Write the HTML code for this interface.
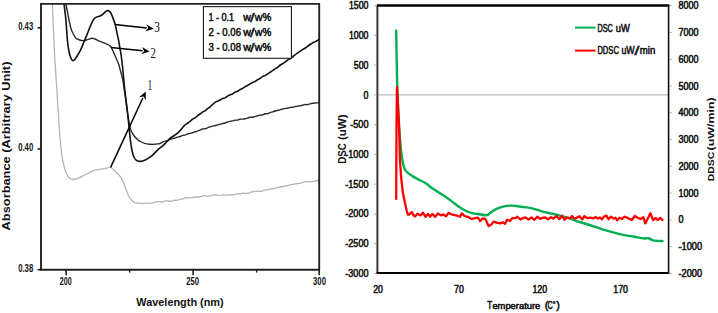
<!DOCTYPE html>
<html><head><meta charset="utf-8"><style>
html,body{margin:0;padding:0;background:#fff;width:718px;height:313px;overflow:hidden}
svg{display:block}
</style></head><body>
<svg width="718" height="313" viewBox="0 0 718 313">
<rect width="718" height="313" fill="#fff"/>
<path d="M52.30,3.50 C52.50,7.92 53.07,20.58 53.50,30.00 C53.93,39.42 54.23,48.33 54.90,60.00 C55.57,71.67 56.75,88.33 57.50,100.00 C58.25,111.67 58.95,123.33 59.40,130.00 C59.85,136.67 59.85,136.20 60.20,140.00 C60.55,143.80 60.98,148.97 61.50,152.80 C62.02,156.63 62.58,159.82 63.30,163.00 C64.02,166.18 64.83,169.43 65.80,171.90 C66.77,174.37 67.82,176.53 69.10,177.80 C70.38,179.07 72.00,179.42 73.50,179.50 C75.00,179.58 76.28,179.02 78.10,178.30 C79.92,177.58 82.28,176.27 84.40,175.20 C86.52,174.13 89.10,172.75 90.80,171.90 C92.50,171.05 93.07,170.53 94.60,170.10 C96.13,169.67 98.07,169.60 100.00,169.30 C101.93,169.00 104.43,168.62 106.20,168.30 C107.97,167.98 109.12,166.92 110.60,167.40 C112.08,167.88 113.60,169.82 115.10,171.20 C116.60,172.58 118.30,174.02 119.60,175.70 C120.90,177.38 121.78,178.88 122.90,181.30 C124.02,183.72 125.18,187.48 126.30,190.20 C127.42,192.92 128.30,195.58 129.60,197.60 C130.90,199.62 132.23,201.35 134.10,202.30 C135.97,203.25 139.18,203.09 140.80,203.29 C142.42,203.48 142.80,203.51 143.80,203.47 C144.80,203.44 145.80,203.13 146.80,203.09 C147.80,203.04 148.80,203.21 149.80,203.19 C150.80,203.17 151.80,203.15 152.80,202.95 C153.80,202.74 154.80,202.18 155.80,201.95 C156.80,201.72 157.80,201.52 158.80,201.56 C159.80,201.61 160.80,202.29 161.80,202.23 C162.80,202.16 163.80,201.41 164.80,201.17 C165.80,200.92 166.80,200.74 167.80,200.77 C168.80,200.79 169.80,201.39 170.80,201.31 C171.80,201.24 172.80,200.48 173.80,200.31 C174.80,200.14 175.80,200.44 176.80,200.28 C177.80,200.11 178.80,199.52 179.80,199.30 C180.80,199.07 181.80,199.19 182.80,198.94 C183.80,198.70 184.80,197.99 185.80,197.81 C186.80,197.63 187.80,197.87 188.80,197.84 C189.80,197.82 190.80,197.81 191.80,197.66 C192.80,197.52 193.80,197.10 194.80,196.99 C195.80,196.88 196.80,197.05 197.80,197.00 C198.80,196.94 199.80,196.87 200.80,196.65 C201.80,196.43 202.80,195.73 203.80,195.67 C204.80,195.60 205.80,196.22 206.80,196.24 C207.80,196.26 208.80,195.95 209.80,195.78 C210.80,195.61 211.80,195.38 212.80,195.21 C213.80,195.03 214.80,194.67 215.80,194.73 C216.80,194.79 217.80,195.53 218.80,195.57 C219.80,195.61 220.80,195.02 221.80,194.94 C222.80,194.86 223.80,195.05 224.80,195.08 C225.80,195.11 226.80,195.17 227.80,195.11 C228.80,195.06 229.80,194.81 230.80,194.76 C231.80,194.70 232.80,194.94 233.80,194.78 C234.80,194.63 235.80,193.96 236.80,193.82 C237.80,193.69 238.80,194.08 239.80,193.98 C240.80,193.88 241.80,193.31 242.80,193.22 C243.80,193.14 244.80,193.50 245.80,193.48 C246.80,193.46 247.80,193.36 248.80,193.08 C249.80,192.81 250.80,192.09 251.80,191.82 C252.80,191.54 253.80,191.59 254.80,191.46 C255.80,191.33 256.80,191.04 257.80,191.03 C258.80,191.03 259.80,191.54 260.80,191.41 C261.80,191.28 262.80,190.50 263.80,190.26 C264.80,190.02 265.80,190.17 266.80,189.97 C267.80,189.77 268.80,189.25 269.80,189.06 C270.80,188.86 271.80,188.96 272.80,188.79 C273.80,188.61 274.80,188.27 275.80,188.01 C276.80,187.75 277.80,187.44 278.80,187.23 C279.80,187.02 280.80,186.96 281.80,186.76 C282.80,186.56 283.80,186.20 284.80,186.01 C285.80,185.83 286.80,185.88 287.80,185.65 C288.80,185.42 289.80,184.88 290.80,184.64 C291.80,184.39 292.80,184.37 293.80,184.19 C294.80,184.00 295.80,183.67 296.80,183.52 C297.80,183.37 298.80,183.45 299.80,183.27 C300.80,183.10 301.80,182.78 302.80,182.48 C303.80,182.18 304.80,181.56 305.80,181.46 C306.80,181.36 307.80,181.86 308.80,181.88 C309.80,181.91 310.80,181.73 311.80,181.60 C312.80,181.47 313.80,181.33 314.80,181.12 C315.80,180.90 317.03,180.49 317.80,180.30 C318.57,180.12 319.13,180.05 319.40,180.00" fill="none" stroke="#b4b4b4" stroke-width="1.3"/>
<path d="M65.90,3.50 C66.03,4.25 66.43,6.58 66.70,8.00 C66.97,9.42 67.12,10.00 67.50,12.00 C67.88,14.00 68.53,17.67 69.00,20.00 C69.47,22.33 69.88,24.33 70.30,26.00 C70.72,27.67 71.00,28.67 71.50,30.00 C72.00,31.33 72.55,32.63 73.30,34.00 C74.05,35.37 74.97,37.20 76.00,38.20 C77.03,39.20 78.23,39.60 79.50,40.00 C80.77,40.40 82.27,40.67 83.60,40.60 C84.93,40.53 86.10,39.98 87.50,39.60 C88.90,39.22 90.73,38.40 92.00,38.30 C93.27,38.20 93.83,38.52 95.10,39.00 C96.37,39.48 98.12,40.55 99.60,41.20 C101.08,41.85 102.53,42.30 104.00,42.90 C105.47,43.50 107.35,44.27 108.40,44.80 C109.45,45.33 109.77,45.57 110.30,46.10 C110.83,46.63 110.95,46.72 111.60,48.00 C112.25,49.28 113.35,51.88 114.20,53.80 C115.05,55.72 115.97,57.80 116.70,59.50 C117.43,61.20 118.05,62.42 118.60,64.00 C119.15,65.58 119.48,67.12 120.00,69.00 C120.52,70.88 121.18,73.18 121.70,75.30 C122.22,77.42 122.65,79.13 123.10,81.70 C123.55,84.27 123.95,87.65 124.40,90.70 C124.85,93.75 125.30,96.45 125.80,100.00 C126.30,103.55 126.90,108.50 127.40,112.00 C127.90,115.50 128.30,118.23 128.80,121.00 C129.30,123.77 129.82,126.57 130.40,128.60 C130.98,130.63 131.62,131.92 132.30,133.20 C132.98,134.48 133.68,135.30 134.50,136.30 C135.32,137.30 136.23,138.33 137.20,139.20 C138.17,140.07 139.08,140.82 140.30,141.50 C141.52,142.18 142.95,142.85 144.50,143.30 C146.05,143.75 147.93,144.03 149.60,144.20 C151.27,144.37 152.90,144.40 154.50,144.30 C156.10,144.20 158.28,143.71 159.20,143.60 C160.12,143.49 159.45,143.87 160.00,143.62 C160.55,143.37 161.67,142.53 162.50,142.11 C163.33,141.68 164.17,141.29 165.00,141.08 C165.83,140.87 166.67,141.12 167.50,140.85 C168.33,140.58 169.17,139.83 170.00,139.45 C170.83,139.08 171.67,138.80 172.50,138.58 C173.33,138.36 174.17,138.38 175.00,138.13 C175.83,137.88 176.67,137.33 177.50,137.09 C178.33,136.85 179.17,136.95 180.00,136.67 C180.83,136.40 181.67,135.68 182.50,135.43 C183.33,135.18 184.17,135.41 185.00,135.16 C185.83,134.90 186.67,134.23 187.50,133.92 C188.33,133.62 189.17,133.53 190.00,133.34 C190.83,133.15 191.67,133.02 192.50,132.77 C193.33,132.51 194.17,132.06 195.00,131.79 C195.83,131.52 196.67,131.42 197.50,131.15 C198.33,130.89 199.17,130.56 200.00,130.20 C200.83,129.83 201.67,129.19 202.50,128.96 C203.33,128.72 204.17,128.98 205.00,128.79 C205.83,128.61 206.67,128.16 207.50,127.84 C208.33,127.52 209.17,127.19 210.00,126.90 C210.83,126.60 211.67,126.24 212.50,126.06 C213.33,125.87 214.17,125.97 215.00,125.76 C215.83,125.56 216.67,125.06 217.50,124.82 C218.33,124.58 219.17,124.56 220.00,124.35 C220.83,124.14 221.67,123.77 222.50,123.55 C223.33,123.32 224.17,123.24 225.00,122.99 C225.83,122.74 226.67,122.29 227.50,122.03 C228.33,121.77 229.17,121.63 230.00,121.43 C230.83,121.24 231.67,121.06 232.50,120.85 C233.33,120.63 234.17,120.26 235.00,120.14 C235.83,120.03 236.67,120.32 237.50,120.18 C238.33,120.03 239.17,119.44 240.00,119.27 C240.83,119.09 241.67,119.21 242.50,119.14 C243.33,119.06 244.17,118.97 245.00,118.80 C245.83,118.63 246.67,118.36 247.50,118.10 C248.33,117.84 249.17,117.39 250.00,117.24 C250.83,117.09 251.67,117.32 252.50,117.21 C253.33,117.10 254.17,116.84 255.00,116.59 C255.83,116.35 256.67,115.99 257.50,115.75 C258.33,115.51 259.17,115.30 260.00,115.15 C260.83,115.00 261.67,115.09 262.50,114.86 C263.33,114.63 264.17,113.96 265.00,113.76 C265.83,113.55 266.67,113.82 267.50,113.63 C268.33,113.43 269.17,112.88 270.00,112.58 C270.83,112.28 271.67,112.10 272.50,111.83 C273.33,111.57 274.17,111.24 275.00,111.00 C275.83,110.77 276.67,110.60 277.50,110.43 C278.33,110.25 279.17,110.17 280.00,109.93 C280.83,109.70 281.67,109.24 282.50,109.01 C283.33,108.78 284.17,108.69 285.00,108.56 C285.83,108.42 286.67,108.38 287.50,108.21 C288.33,108.03 289.17,107.67 290.00,107.51 C290.83,107.35 291.67,107.36 292.50,107.22 C293.33,107.08 294.17,106.87 295.00,106.69 C295.83,106.50 296.67,106.26 297.50,106.11 C298.33,105.97 299.17,105.96 300.00,105.82 C300.83,105.68 301.67,105.49 302.50,105.27 C303.33,105.05 304.17,104.61 305.00,104.51 C305.83,104.42 306.67,104.82 307.50,104.70 C308.33,104.59 309.17,104.02 310.00,103.81 C310.83,103.59 311.67,103.56 312.50,103.41 C313.33,103.27 314.17,103.04 315.00,102.95 C315.83,102.86 316.83,102.98 317.50,102.87 C318.17,102.76 318.75,102.39 319.00,102.30" fill="none" stroke="#2a2a2a" stroke-width="1.4"/>
<path d="M64.00,3.50 C64.17,4.92 64.68,9.25 65.00,12.00 C65.32,14.75 65.55,16.00 65.90,20.00 C66.25,24.00 66.82,32.33 67.10,36.00 C67.38,39.67 67.33,39.67 67.60,42.00 C67.87,44.33 68.30,47.75 68.70,50.00 C69.10,52.25 69.55,53.97 70.00,55.50 C70.45,57.03 70.93,58.33 71.40,59.20 C71.87,60.07 72.27,60.63 72.80,60.70 C73.33,60.77 73.97,60.25 74.60,59.60 C75.23,58.95 75.63,58.33 76.60,56.80 C77.57,55.27 79.23,52.73 80.40,50.40 C81.57,48.07 82.53,45.35 83.60,42.80 C84.67,40.25 85.63,37.97 86.80,35.10 C87.97,32.23 89.43,28.25 90.60,25.60 C91.77,22.95 92.75,20.65 93.80,19.20 C94.85,17.75 95.85,17.43 96.90,16.90 C97.95,16.37 99.03,16.52 100.10,16.00 C101.17,15.48 102.23,14.65 103.30,13.80 C104.37,12.95 105.65,11.40 106.50,10.90 C107.35,10.40 107.75,10.57 108.40,10.80 C109.05,11.03 109.65,11.12 110.40,12.30 C111.15,13.48 112.05,15.68 112.90,17.90 C113.75,20.12 114.83,23.13 115.50,25.60 C116.17,28.07 116.38,30.25 116.90,32.70 C117.42,35.15 118.10,37.75 118.60,40.30 C119.10,42.85 119.47,45.43 119.90,48.00 C120.33,50.57 120.83,53.15 121.20,55.70 C121.57,58.25 121.83,61.08 122.10,63.30 C122.37,65.52 122.55,66.55 122.80,69.00 C123.05,71.45 123.27,74.50 123.60,78.00 C123.93,81.50 124.40,86.33 124.80,90.00 C125.20,93.67 125.53,96.17 126.00,100.00 C126.47,103.83 127.13,108.83 127.60,113.00 C128.07,117.17 128.33,120.50 128.80,125.00 C129.27,129.50 129.88,135.83 130.40,140.00 C130.92,144.17 131.38,147.33 131.90,150.00 C132.42,152.67 132.90,154.42 133.50,156.00 C134.10,157.58 134.67,158.62 135.50,159.50 C136.33,160.38 137.50,161.02 138.50,161.30 C139.50,161.58 140.37,161.42 141.50,161.20 C142.63,160.98 144.13,160.50 145.30,160.00 C146.47,159.50 147.38,158.93 148.50,158.20 C149.62,157.47 150.67,156.78 152.00,155.60 C153.33,154.42 155.17,152.39 156.50,151.10 C157.83,149.81 159.00,148.69 160.00,147.85 C161.00,147.01 161.67,146.77 162.50,146.06 C163.33,145.35 164.17,144.44 165.00,143.59 C165.83,142.75 166.67,141.87 167.50,140.99 C168.33,140.10 169.17,139.01 170.00,138.30 C170.83,137.59 171.67,137.29 172.50,136.74 C173.33,136.19 174.17,135.62 175.00,135.00 C175.83,134.38 176.67,133.76 177.50,133.04 C178.33,132.32 179.17,131.56 180.00,130.68 C180.83,129.81 181.67,128.76 182.50,127.81 C183.33,126.86 184.17,125.72 185.00,124.96 C185.83,124.20 186.67,123.84 187.50,123.27 C188.33,122.69 189.17,122.17 190.00,121.50 C190.83,120.82 191.67,119.82 192.50,119.22 C193.33,118.62 194.17,118.47 195.00,117.90 C195.83,117.32 196.67,116.41 197.50,115.76 C198.33,115.11 199.17,114.62 200.00,114.02 C200.83,113.41 201.67,112.66 202.50,112.14 C203.33,111.62 204.17,111.47 205.00,110.90 C205.83,110.34 206.67,109.42 207.50,108.74 C208.33,108.07 209.17,107.53 210.00,106.86 C210.83,106.18 211.67,105.46 212.50,104.70 C213.33,103.94 214.17,102.90 215.00,102.31 C215.83,101.73 216.67,101.56 217.50,101.18 C218.33,100.80 219.17,100.49 220.00,100.05 C220.83,99.61 221.67,98.89 222.50,98.53 C223.33,98.17 224.17,98.25 225.00,97.87 C225.83,97.48 226.67,96.72 227.50,96.21 C228.33,95.70 229.17,95.18 230.00,94.81 C230.83,94.43 231.67,94.40 232.50,93.95 C233.33,93.50 234.17,92.56 235.00,92.12 C235.83,91.68 236.67,91.74 237.50,91.33 C238.33,90.92 239.17,90.15 240.00,89.65 C240.83,89.16 241.67,88.84 242.50,88.38 C243.33,87.91 244.17,87.32 245.00,86.85 C245.83,86.38 246.67,86.04 247.50,85.55 C248.33,85.07 249.17,84.47 250.00,83.95 C250.83,83.43 251.67,82.83 252.50,82.44 C253.33,82.06 254.17,82.08 255.00,81.63 C255.83,81.17 256.67,80.22 257.50,79.71 C258.33,79.20 259.17,79.07 260.00,78.55 C260.83,78.03 261.67,77.10 262.50,76.61 C263.33,76.12 264.17,76.03 265.00,75.60 C265.83,75.16 266.67,74.55 267.50,74.00 C268.33,73.45 269.17,72.87 270.00,72.31 C270.83,71.76 271.67,71.23 272.50,70.66 C273.33,70.09 274.17,69.43 275.00,68.87 C275.83,68.32 276.67,67.93 277.50,67.32 C278.33,66.71 279.17,65.83 280.00,65.24 C280.83,64.64 281.67,64.24 282.50,63.74 C283.33,63.24 284.17,62.85 285.00,62.23 C285.83,61.62 286.67,60.62 287.50,60.05 C288.33,59.48 289.17,59.31 290.00,58.81 C290.83,58.30 291.67,57.66 292.50,57.01 C293.33,56.36 294.17,55.56 295.00,54.91 C295.83,54.26 296.67,53.69 297.50,53.11 C298.33,52.52 299.17,51.98 300.00,51.40 C300.83,50.81 301.67,50.10 302.50,49.58 C303.33,49.06 304.17,48.81 305.00,48.26 C305.83,47.71 306.67,46.91 307.50,46.28 C308.33,45.65 309.17,45.02 310.00,44.47 C310.83,43.92 311.67,43.40 312.50,42.96 C313.33,42.52 314.17,42.26 315.00,41.84 C315.83,41.43 316.83,40.92 317.50,40.48 C318.17,40.04 318.75,39.41 319.00,39.20" fill="none" stroke="#111" stroke-width="1.6"/>
<rect x="0" y="0" width="40" height="313" fill="#fff"/>
<path d="M41,3.9 H319.2 V269.7 H41 Z" fill="none" stroke="#222" stroke-width="1.9"/>
<line x1="37.6" y1="27.8" x2="41" y2="27.8" stroke="#141414" stroke-width="1.6"/>
<line x1="37.6" y1="149" x2="41" y2="149" stroke="#141414" stroke-width="1.6"/>
<line x1="37.6" y1="269.7" x2="41" y2="269.7" stroke="#141414" stroke-width="1.6"/>
<line x1="66.1" y1="269.7" x2="66.1" y2="275.3" stroke="#141414" stroke-width="1.5"/>
<line x1="193.1" y1="269.7" x2="193.1" y2="275.3" stroke="#141414" stroke-width="1.5"/>
<line x1="319.2" y1="269.7" x2="319.2" y2="275.3" stroke="#141414" stroke-width="1.5"/>
<line x1="129.6" y1="269.7" x2="129.6" y2="272.6" stroke="#141414" stroke-width="1.3"/>
<line x1="256.6" y1="269.7" x2="256.6" y2="272.6" stroke="#141414" stroke-width="1.3"/>
<rect x="203.4" y="6.6" width="88" height="51.7" fill="#fff" stroke="#1a1a1a" stroke-width="1.1"/>
<line x1="110.6" y1="167.4" x2="142.85" y2="97.95" stroke="#000" stroke-width="1.5"/><polygon points="145.80,91.60 145.70,100.37 143.53,96.50 139.17,97.34" fill="#000"/>
<line x1="111.0" y1="47.4" x2="142.64" y2="50.76" stroke="#000" stroke-width="1.5"/><polygon points="149.60,51.50 141.26,54.23 144.23,50.93 142.02,47.08" fill="#000"/>
<line x1="114.8" y1="24.5" x2="146.74" y2="27.95" stroke="#000" stroke-width="1.5"/><polygon points="153.70,28.70 145.36,31.42 148.33,28.12 146.13,24.26" fill="#000"/>
<text x="33.2" y="29.8" font-family='"Liberation Sans", sans-serif' font-size="10.2" font-weight="bold" text-anchor="end" fill="#111" textLength="15" lengthAdjust="spacingAndGlyphs">0.43</text>
<text x="33.2" y="151.0" font-family='"Liberation Sans", sans-serif' font-size="10.2" font-weight="bold" text-anchor="end" fill="#111" textLength="15" lengthAdjust="spacingAndGlyphs">0.40</text>
<text x="33.2" y="271.9" font-family='"Liberation Sans", sans-serif' font-size="10.2" font-weight="bold" text-anchor="end" fill="#111" textLength="15" lengthAdjust="spacingAndGlyphs">0.38</text>
<text x="65.7" y="284.8" font-family='"Liberation Sans", sans-serif' font-size="10.0" font-weight="bold" text-anchor="middle" fill="#111" textLength="11.8" lengthAdjust="spacingAndGlyphs">200</text>
<text x="192.7" y="284.8" font-family='"Liberation Sans", sans-serif' font-size="10.0" font-weight="bold" text-anchor="middle" fill="#111" textLength="12.8" lengthAdjust="spacingAndGlyphs">250</text>
<text x="319.5" y="284.8" font-family='"Liberation Sans", sans-serif' font-size="10.0" font-weight="bold" text-anchor="middle" fill="#111" textLength="12.8" lengthAdjust="spacingAndGlyphs">300</text>
<text x="136.3" y="305.7" font-family='"Liberation Sans", sans-serif' font-size="11.1" font-weight="bold" text-anchor="start" fill="#111" textLength="87.4" lengthAdjust="spacingAndGlyphs">Wavelength (nm)</text>
<text transform="translate(10.0,230.4) rotate(-90)" x="0" y="0" font-family='"Liberation Sans", sans-serif' font-size="10.2" font-weight="bold" fill="#111" textLength="168.8" lengthAdjust="spacingAndGlyphs">Absorbance (Arbitrary Unit)</text>
<text x="147.4" y="89.8" font-family='"Liberation Serif", serif' font-size="15" font-weight="normal" text-anchor="start" fill="#111" textLength="4.8" lengthAdjust="spacingAndGlyphs">1</text>
<text x="150.5" y="58.0" font-family='"Liberation Serif", serif' font-size="15" font-weight="normal" text-anchor="start" fill="#111" textLength="5.4" lengthAdjust="spacingAndGlyphs">2</text>
<text x="154.2" y="31.7" font-family='"Liberation Serif", serif' font-size="15" font-weight="normal" text-anchor="start" fill="#111" textLength="5.6" lengthAdjust="spacingAndGlyphs">3</text>
<text x="208.4" y="21.2" font-family='"Liberation Sans", sans-serif' font-size="10.6" font-weight="normal" text-anchor="start" fill="#111" textLength="25.8" lengthAdjust="spacingAndGlyphs" stroke="#111" stroke-width="0.5">1 - 0.1</text>
<text y="21.2" font-family='"Liberation Sans", sans-serif' font-size="10.6" fill="#111" stroke="#111" stroke-width="0.5"><tspan x="243.2">w</tspan><tspan x="250.0" font-size="12.5" dy="0.9" textLength="4.6" lengthAdjust="spacingAndGlyphs">/</tspan><tspan x="254.7" dy="-0.9">w</tspan><tspan x="262.5" textLength="8.8" lengthAdjust="spacingAndGlyphs">%</tspan></text>
<text x="208.4" y="36.2" font-family='"Liberation Sans", sans-serif' font-size="10.6" font-weight="normal" text-anchor="start" fill="#111" textLength="32.6" lengthAdjust="spacingAndGlyphs" stroke="#111" stroke-width="0.5">2 - 0.06</text>
<text y="36.2" font-family='"Liberation Sans", sans-serif' font-size="10.6" fill="#111" stroke="#111" stroke-width="0.5"><tspan x="243.2">w</tspan><tspan x="250.0" font-size="12.5" dy="0.9" textLength="4.6" lengthAdjust="spacingAndGlyphs">/</tspan><tspan x="254.7" dy="-0.9">w</tspan><tspan x="262.5" textLength="8.8" lengthAdjust="spacingAndGlyphs">%</tspan></text>
<text x="208.4" y="51.0" font-family='"Liberation Sans", sans-serif' font-size="10.6" font-weight="normal" text-anchor="start" fill="#111" textLength="32.6" lengthAdjust="spacingAndGlyphs" stroke="#111" stroke-width="0.5">3 - 0.08</text>
<text y="51.0" font-family='"Liberation Sans", sans-serif' font-size="10.6" fill="#111" stroke="#111" stroke-width="0.5"><tspan x="243.2">w</tspan><tspan x="250.0" font-size="12.5" dy="0.9" textLength="4.6" lengthAdjust="spacingAndGlyphs">/</tspan><tspan x="254.7" dy="-0.9">w</tspan><tspan x="262.5" textLength="8.8" lengthAdjust="spacingAndGlyphs">%</tspan></text>
<line x1="377.4" y1="94.9" x2="668.5" y2="94.9" stroke="#bdbdbd" stroke-width="1.2"/>
<path d="M396.20,30.60 C396.25,33.83 396.38,43.43 396.50,50.00 C396.62,56.57 396.77,63.88 396.90,70.00 C397.03,76.12 397.08,80.03 397.30,86.70 C397.52,93.37 397.92,103.62 398.20,110.00 C398.48,116.38 398.68,120.00 399.00,125.00 C399.32,130.00 399.70,135.37 400.10,140.00 C400.50,144.63 400.93,148.97 401.40,152.80 C401.87,156.63 402.27,160.13 402.90,163.00 C403.53,165.87 404.17,168.18 405.20,170.00 C406.23,171.82 407.60,172.72 409.10,173.90 C410.60,175.08 412.62,176.15 414.20,177.10 C415.78,178.05 416.67,178.58 418.60,179.60 C420.53,180.62 423.47,181.70 425.80,183.20 C428.13,184.70 429.87,186.70 432.60,188.60 C435.33,190.50 439.12,192.55 442.20,194.60 C445.28,196.65 448.12,198.73 451.10,200.90 C454.08,203.07 457.53,205.88 460.10,207.60 C462.67,209.32 464.38,210.25 466.50,211.20 C468.62,212.15 470.55,212.78 472.80,213.30 C475.05,213.82 477.80,213.98 480.00,214.30 C482.20,214.62 484.58,215.17 486.00,215.20 C487.42,215.23 487.77,214.92 488.50,214.50 C489.23,214.08 489.22,213.55 490.40,212.70 C491.58,211.85 493.47,210.42 495.60,209.40 C497.73,208.38 500.43,207.23 503.20,206.60 C505.97,205.97 509.22,205.57 512.20,205.60 C515.18,205.63 517.92,206.38 521.10,206.80 C524.28,207.22 527.88,207.35 531.30,208.10 C534.72,208.85 538.48,210.43 541.60,211.30 C544.72,212.17 547.52,212.75 550.00,213.30 C552.48,213.85 553.50,213.85 556.50,214.60 C559.50,215.35 564.17,216.57 568.00,217.80 C571.83,219.03 575.67,220.72 579.50,222.00 C583.33,223.28 587.15,224.28 591.00,225.50 C594.85,226.72 598.75,228.12 602.60,229.30 C606.45,230.48 610.43,231.63 614.10,232.60 C617.77,233.57 621.27,234.42 624.60,235.10 C627.93,235.78 630.92,236.15 634.10,236.70 C637.28,237.25 641.30,238.15 643.70,238.40 C646.10,238.65 646.90,237.87 648.50,238.20 C650.10,238.53 650.97,239.93 653.30,240.40 C655.63,240.87 660.97,240.90 662.50,241.00" fill="none" stroke="#00b050" stroke-width="2.4" stroke-linejoin="round" stroke-linecap="round"/>
<path d="M396.2,199.1 L396.3,170.0 L396.5,130.0 L396.8,100.0 L397.0,87.2 L397.4,95.0 L398.2,110.0 L399.0,125.0 L399.5,140.0 L399.9,160.0 L401.2,178.0 L402.9,192.8 L404.8,202.3 L406.7,210.6 L407.7,214.5 L409.2,214.6 L410.5,213.3 L411.8,212.0 L413.7,215.6 L415.0,216.4 L417.3,213.7 L420.6,215.4 L423.0,212.6 L425.5,216.8 L427.9,213.9 L430.1,216.7 L432.2,213.9 L435.2,216.9 L437.7,213.4 L441.0,215.3 L443.3,214.6 L446.1,216.2 L448.5,212.9 L451.4,214.3 L454.8,215.2 L456.8,215.5 L460.0,216.8 L461.8,213.4 L464.4,215.8 L466.6,216.7 L468.6,217.2 L471.7,219.0 L474.9,218.1 L477.9,217.6 L480.2,221.1 L482.5,218.4 L485.4,219.0 L488.6,226.1 L491.0,224.7 L493.9,221.5 L497.1,222.9 L500.4,223.4 L502.5,222.2 L505.1,223.8 L507.1,219.7 L510.0,221.0 L512.2,218.2 L515.3,218.2 L517.5,216.8 L520.4,219.5 L522.3,218.4 L525.3,217.4 L528.6,219.5 L531.5,217.5 L534.5,219.8 L537.3,216.8 L540.2,218.9 L542.3,217.9 L545.3,217.5 L547.9,219.4 L551.0,217.2 L553.3,218.6 L556.5,215.9 L559.3,219.2 L562.2,215.8 L564.4,219.8 L566.8,217.5 L569.9,218.4 L572.0,216.0 L574.0,218.3 L575.9,218.3 L579.3,216.2 L582.3,219.4 L584.3,216.1 L587.1,218.2 L590.3,217.6 L593.5,218.3 L595.6,216.9 L597.8,218.7 L599.9,217.5 L601.9,219.3 L604.4,216.3 L606.4,215.6 L608.5,219.2 L611.0,216.6 L613.5,218.7 L615.5,217.8 L617.3,220.3 L619.5,217.7 L622.2,218.9 L624.2,216.7 L626.5,217.3 L629.5,218.9 L631.8,220.0 L634.9,216.0 L637.2,217.5 L640.5,219.0 L643.3,217.2 L645.3,223.4 L650.4,213.2 L653.1,220.2 L655.4,218.0 L657.8,220.0 L660.2,217.8 L662.5,220.0" fill="none" stroke="#ff0000" stroke-width="2.3" stroke-linejoin="round" stroke-linecap="round"/>
<line x1="377.4" y1="5.7" x2="377.4" y2="273.9" stroke="#3a3a3a" stroke-width="2"/>
<line x1="377" y1="5.6" x2="669.4" y2="5.6" stroke="#000" stroke-width="2.5"/>
<line x1="376.5" y1="273" x2="669" y2="273" stroke="#000" stroke-width="2"/>
<line x1="668.6" y1="5" x2="668.6" y2="274" stroke="#111" stroke-width="1.6"/>
<line x1="374.4" y1="5.7" x2="377" y2="5.7" stroke="#999" stroke-width="1"/>
<text x="368.5" y="9.3" font-family='"Liberation Sans", sans-serif' font-size="10.4" font-weight="normal" text-anchor="end" fill="#111" textLength="19.6" lengthAdjust="spacingAndGlyphs" stroke="#111" stroke-width="0.55">1500</text>
<line x1="374.4" y1="35.4" x2="377" y2="35.4" stroke="#999" stroke-width="1"/>
<text x="368.5" y="39.04" font-family='"Liberation Sans", sans-serif' font-size="10.4" font-weight="normal" text-anchor="end" fill="#111" textLength="19.6" lengthAdjust="spacingAndGlyphs" stroke="#111" stroke-width="0.55">1000</text>
<line x1="374.4" y1="65.2" x2="377" y2="65.2" stroke="#999" stroke-width="1"/>
<text x="368.5" y="68.77999999999999" font-family='"Liberation Sans", sans-serif' font-size="10.4" font-weight="normal" text-anchor="end" fill="#111" textLength="14.7" lengthAdjust="spacingAndGlyphs" stroke="#111" stroke-width="0.55">500</text>
<line x1="374.4" y1="94.9" x2="377" y2="94.9" stroke="#999" stroke-width="1"/>
<text x="368.5" y="98.52" font-family='"Liberation Sans", sans-serif' font-size="10.4" font-weight="normal" text-anchor="end" fill="#111" textLength="4.9" lengthAdjust="spacingAndGlyphs" stroke="#111" stroke-width="0.55">0</text>
<line x1="374.4" y1="124.7" x2="377" y2="124.7" stroke="#999" stroke-width="1"/>
<text x="368.5" y="128.26" font-family='"Liberation Sans", sans-serif' font-size="10.4" font-weight="normal" text-anchor="end" fill="#111" textLength="18.3" lengthAdjust="spacingAndGlyphs" stroke="#111" stroke-width="0.55">-500</text>
<line x1="374.4" y1="154.4" x2="377" y2="154.4" stroke="#999" stroke-width="1"/>
<text x="368.5" y="157.99999999999997" font-family='"Liberation Sans", sans-serif' font-size="10.4" font-weight="normal" text-anchor="end" fill="#111" textLength="23.2" lengthAdjust="spacingAndGlyphs" stroke="#111" stroke-width="0.55">-1000</text>
<line x1="374.4" y1="184.1" x2="377" y2="184.1" stroke="#999" stroke-width="1"/>
<text x="368.5" y="187.73999999999998" font-family='"Liberation Sans", sans-serif' font-size="10.4" font-weight="normal" text-anchor="end" fill="#111" textLength="23.2" lengthAdjust="spacingAndGlyphs" stroke="#111" stroke-width="0.55">-1500</text>
<line x1="374.4" y1="213.9" x2="377" y2="213.9" stroke="#999" stroke-width="1"/>
<text x="368.5" y="217.47999999999996" font-family='"Liberation Sans", sans-serif' font-size="10.4" font-weight="normal" text-anchor="end" fill="#111" textLength="23.2" lengthAdjust="spacingAndGlyphs" stroke="#111" stroke-width="0.55">-2000</text>
<line x1="374.4" y1="243.6" x2="377" y2="243.6" stroke="#999" stroke-width="1"/>
<text x="368.5" y="247.21999999999997" font-family='"Liberation Sans", sans-serif' font-size="10.4" font-weight="normal" text-anchor="end" fill="#111" textLength="23.2" lengthAdjust="spacingAndGlyphs" stroke="#111" stroke-width="0.55">-2500</text>
<line x1="374.4" y1="273.4" x2="377" y2="273.4" stroke="#999" stroke-width="1"/>
<text x="368.5" y="276.96" font-family='"Liberation Sans", sans-serif' font-size="10.4" font-weight="normal" text-anchor="end" fill="#111" textLength="23.2" lengthAdjust="spacingAndGlyphs" stroke="#111" stroke-width="0.55">-3000</text>
<line x1="669" y1="5.7" x2="671.6" y2="5.7" stroke="#999" stroke-width="1"/>
<text x="678.5" y="9.3" font-family='"Liberation Sans", sans-serif' font-size="10.4" font-weight="normal" text-anchor="start" fill="#111" textLength="20.0" lengthAdjust="spacingAndGlyphs" stroke="#111" stroke-width="0.55">8000</text>
<line x1="669" y1="32.5" x2="671.6" y2="32.5" stroke="#999" stroke-width="1"/>
<text x="678.5" y="36.07" font-family='"Liberation Sans", sans-serif' font-size="10.4" font-weight="normal" text-anchor="start" fill="#111" textLength="20.0" lengthAdjust="spacingAndGlyphs" stroke="#111" stroke-width="0.55">7000</text>
<line x1="669" y1="59.2" x2="671.6" y2="59.2" stroke="#999" stroke-width="1"/>
<text x="678.5" y="62.84" font-family='"Liberation Sans", sans-serif' font-size="10.4" font-weight="normal" text-anchor="start" fill="#111" textLength="20.0" lengthAdjust="spacingAndGlyphs" stroke="#111" stroke-width="0.55">6000</text>
<line x1="669" y1="86.0" x2="671.6" y2="86.0" stroke="#999" stroke-width="1"/>
<text x="678.5" y="89.61" font-family='"Liberation Sans", sans-serif' font-size="10.4" font-weight="normal" text-anchor="start" fill="#111" textLength="20.0" lengthAdjust="spacingAndGlyphs" stroke="#111" stroke-width="0.55">5000</text>
<line x1="669" y1="112.8" x2="671.6" y2="112.8" stroke="#999" stroke-width="1"/>
<text x="678.5" y="116.38" font-family='"Liberation Sans", sans-serif' font-size="10.4" font-weight="normal" text-anchor="start" fill="#111" textLength="20.0" lengthAdjust="spacingAndGlyphs" stroke="#111" stroke-width="0.55">4000</text>
<line x1="669" y1="139.5" x2="671.6" y2="139.5" stroke="#999" stroke-width="1"/>
<text x="678.5" y="143.14999999999998" font-family='"Liberation Sans", sans-serif' font-size="10.4" font-weight="normal" text-anchor="start" fill="#111" textLength="20.0" lengthAdjust="spacingAndGlyphs" stroke="#111" stroke-width="0.55">3000</text>
<line x1="669" y1="166.3" x2="671.6" y2="166.3" stroke="#999" stroke-width="1"/>
<text x="678.5" y="169.92" font-family='"Liberation Sans", sans-serif' font-size="10.4" font-weight="normal" text-anchor="start" fill="#111" textLength="20.0" lengthAdjust="spacingAndGlyphs" stroke="#111" stroke-width="0.55">2000</text>
<line x1="669" y1="193.1" x2="671.6" y2="193.1" stroke="#999" stroke-width="1"/>
<text x="678.5" y="196.68999999999997" font-family='"Liberation Sans", sans-serif' font-size="10.4" font-weight="normal" text-anchor="start" fill="#111" textLength="20.0" lengthAdjust="spacingAndGlyphs" stroke="#111" stroke-width="0.55">1000</text>
<line x1="669" y1="219.9" x2="671.6" y2="219.9" stroke="#999" stroke-width="1"/>
<text x="678.5" y="223.45999999999998" font-family='"Liberation Sans", sans-serif' font-size="10.4" font-weight="normal" text-anchor="start" fill="#111" textLength="5.0" lengthAdjust="spacingAndGlyphs" stroke="#111" stroke-width="0.55">0</text>
<line x1="669" y1="246.6" x2="671.6" y2="246.6" stroke="#999" stroke-width="1"/>
<text x="678.5" y="250.23" font-family='"Liberation Sans", sans-serif' font-size="10.4" font-weight="normal" text-anchor="start" fill="#111" textLength="23.6" lengthAdjust="spacingAndGlyphs" stroke="#111" stroke-width="0.55">-1000</text>
<line x1="669" y1="273.4" x2="671.6" y2="273.4" stroke="#999" stroke-width="1"/>
<text x="678.5" y="277.0" font-family='"Liberation Sans", sans-serif' font-size="10.4" font-weight="normal" text-anchor="start" fill="#111" textLength="23.6" lengthAdjust="spacingAndGlyphs" stroke="#111" stroke-width="0.55">-2000</text>
<text x="378.1" y="293.2" font-family='"Liberation Sans", sans-serif' font-size="10.4" font-weight="normal" text-anchor="middle" fill="#111" textLength="9.8" lengthAdjust="spacingAndGlyphs" stroke="#111" stroke-width="0.55">20</text>
<text x="458.93" y="293.2" font-family='"Liberation Sans", sans-serif' font-size="10.4" font-weight="normal" text-anchor="middle" fill="#111" textLength="9.8" lengthAdjust="spacingAndGlyphs" stroke="#111" stroke-width="0.55">70</text>
<text x="539.76" y="293.2" font-family='"Liberation Sans", sans-serif' font-size="10.4" font-weight="normal" text-anchor="middle" fill="#111" textLength="14.7" lengthAdjust="spacingAndGlyphs" stroke="#111" stroke-width="0.55">120</text>
<text x="620.59" y="293.2" font-family='"Liberation Sans", sans-serif' font-size="10.4" font-weight="normal" text-anchor="middle" fill="#111" textLength="14.7" lengthAdjust="spacingAndGlyphs" stroke="#111" stroke-width="0.55">170</text>
<text y="308.9" font-family='"Liberation Sans", sans-serif' font-size="10.4" fill="#111" stroke="#111" stroke-width="0.55"><tspan x="487.3" textLength="4.9" lengthAdjust="spacingAndGlyphs">T</tspan><tspan x="492.4" font-size="9.6" textLength="47.9" lengthAdjust="spacingAndGlyphs">emperature</tspan><tspan x="544.8" font-size="10.8">(</tspan><tspan x="547.5" textLength="5.2" lengthAdjust="spacingAndGlyphs">C</tspan><tspan x="552.8" font-size="7" dy="-1.5">°</tspan><tspan x="556.3" font-size="10.8" dy="1.5">)</tspan></text>
<text transform="translate(345.6,164.3) rotate(-90)" x="0.5" font-family='"Liberation Sans", sans-serif' font-size="10.4" font-weight="bold" fill="#111" textLength="20.6" lengthAdjust="spacingAndGlyphs">DSC</text>
<text transform="translate(345.6,164.3) rotate(-90)" x="24.2" font-family='"Liberation Sans", sans-serif' font-size="10.4" font-weight="bold" fill="#111" textLength="25.8" lengthAdjust="spacingAndGlyphs">(uW)</text>
<text transform="translate(714.0,181.6) rotate(-90)" x="0.4" font-family='"Liberation Sans", sans-serif' font-size="9.0" font-weight="bold" fill="#111" textLength="29.6" lengthAdjust="spacingAndGlyphs">DDSC</text>
<text transform="translate(714.0,181.6) rotate(-90)" x="31.2" font-family='"Liberation Sans", sans-serif' font-size="9.0" font-weight="bold" fill="#111" textLength="53.1" lengthAdjust="spacingAndGlyphs">(uW/min)</text>
<line x1="575" y1="27.6" x2="595.5" y2="27.6" stroke="#00b050" stroke-width="2"/>
<line x1="575" y1="50.6" x2="595.5" y2="50.6" stroke="#ff0000" stroke-width="2"/>
<text y="31.5" font-family='"Liberation Sans", sans-serif' font-size="10.6" fill="#111" stroke="#111" stroke-width="0.55"><tspan x="597.4" textLength="15.4" lengthAdjust="spacingAndGlyphs">DSC</tspan><tspan x="615.8" textLength="14.0" lengthAdjust="spacingAndGlyphs">uW</tspan></text>
<text y="54.3" font-family='"Liberation Sans", sans-serif' font-size="10.6" fill="#111" stroke="#111" stroke-width="0.55"><tspan x="597.4" textLength="21.5" lengthAdjust="spacingAndGlyphs">DDSC</tspan><tspan x="621.4" textLength="13.2" lengthAdjust="spacingAndGlyphs">uW</tspan><tspan x="634.5" font-size="12.5" dy="0.9" textLength="4.8" lengthAdjust="spacingAndGlyphs">/</tspan><tspan x="639.8" dy="-0.9" textLength="15.4" lengthAdjust="spacingAndGlyphs">min</tspan></text>
</svg>
</body></html>
